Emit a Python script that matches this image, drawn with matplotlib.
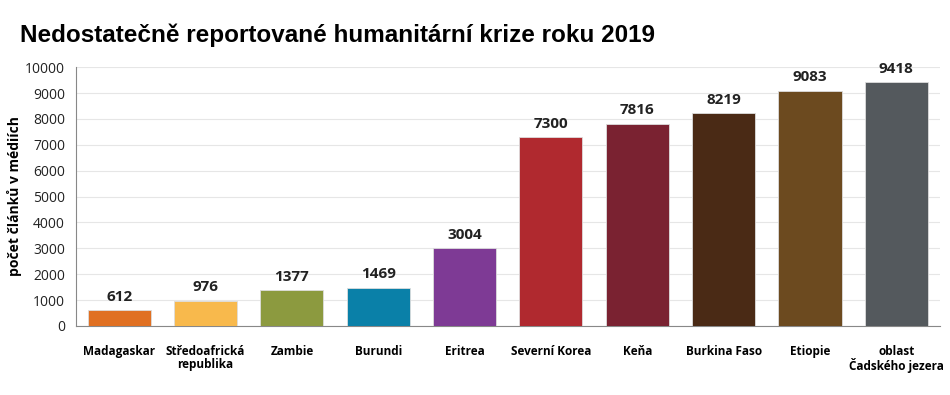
import numpy as np
import matplotlib.pyplot as plt

plt.rcParams['font.family'] = ['Open Sans', 'DejaVu Sans']

countries = ['Madagaskar', 'Středoafrická\nrepublika', 'Zambie', 'Burundi', 'Eritrea',
             'Severní Korea', 'Keňa', 'Burkina Faso', 'Etiopie', 'oblast\nČadského jezera']
articles = [612, 976, 1377, 1469, 3004, 7300, 7816, 8219, 9083, 9418]
colors = ['#e07022', '#f8b94c', '#8c9a3f', '#0a80a8', '#7e3a95',
          '#b0292f', '#7a2231', '#4a2a15', '#6c4a1f', '#54595d']

fig = plt.figure(figsize=(9.5, 3.95), dpi=100)
ax = fig.add_axes([0.08, 0.175, 0.909, 0.655])

x = np.arange(len(countries))
bars = ax.bar(x, articles, width=0.73, color=colors, edgecolor='#dddddd', linewidth=0.6, zorder=3)

for xi, v in zip(x, articles):
    ax.text(xi, v + 250, str(v), ha='center', va='bottom', fontsize=11, fontweight='bold', color='#222222')

ax.set_xlim(-0.5, len(countries) - 0.5)
ax.set_ylim(0, 10000)
ax.set_yticks(np.arange(0, 10001, 1000))
ax.tick_params(axis='y', length=0, labelsize=10, pad=8, labelcolor='#222222')
ax.tick_params(axis='x', length=0, labelsize=8.5, pad=14)
ax.set_xticks(x)
ax.set_xticklabels(countries, fontweight='bold', linespacing=1.0)
ax.grid(axis='y', color='#e6e6e6', linewidth=0.8, zorder=0)

for s in ['top', 'right']:
    ax.spines[s].set_visible(False)
ax.spines['left'].set_color('#888888')
ax.spines['bottom'].set_color('#888888')

ax.set_ylabel('počet článků v médiích', fontsize=10, fontweight='bold', labelpad=2)

fig.text(0.021, 0.893, 'Nedostatečně reportované humanitární krize roku 2019',
         fontsize=17.5, fontweight='bold', family=['Liberation Sans', 'DejaVu Sans'])

fig.savefig('out.png', dpi=100, facecolor='white')
